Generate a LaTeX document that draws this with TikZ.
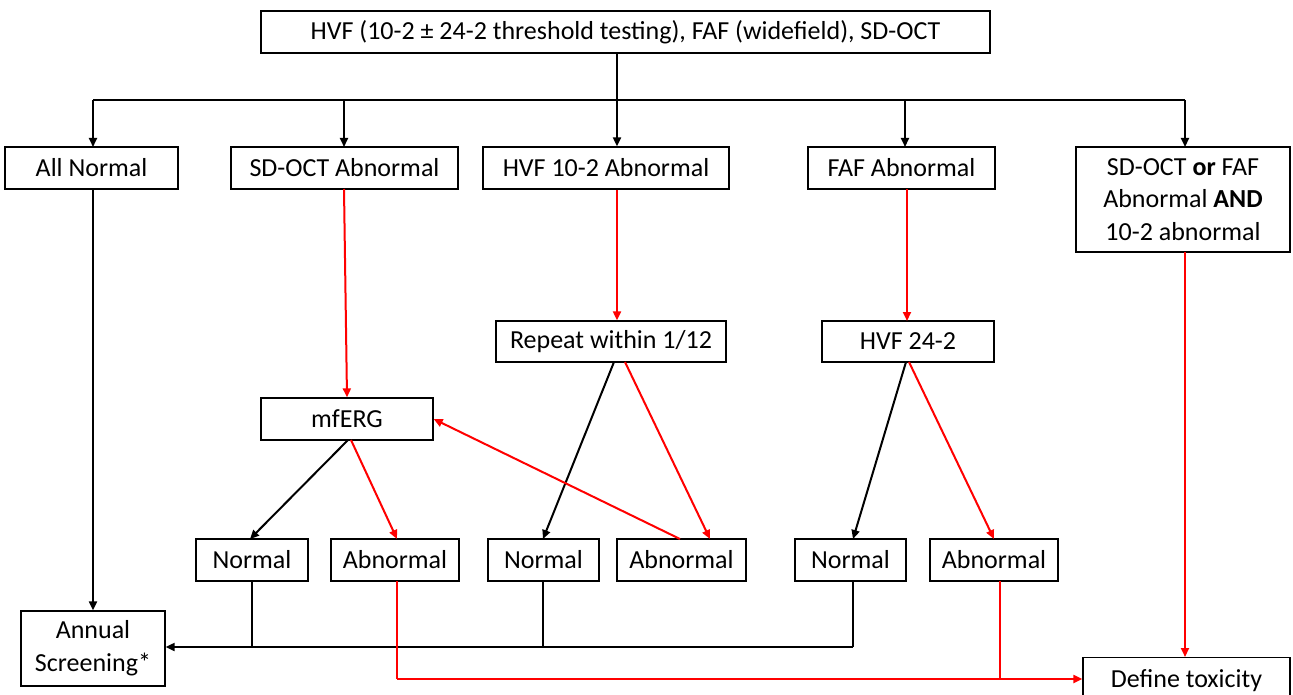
\documentclass[tikz,border=0pt]{standalone}
\usepackage{fontspec}
\setmainfont{Carlito}
\usetikzlibrary{arrows.meta,calc}
\begin{document}
\begin{tikzpicture}[x=1pt,y=-1pt,
  box/.style={draw, line width=1.3pt, inner sep=0pt, minimum height=42pt, align=center,
    font=\fontsize{26}{31}\selectfont},
  ln/.style={line width=2pt, black},
  arr/.style={ln, -{Triangle[length=9pt,width=8pt]}},
  rln/.style={line width=2pt, red},
  rarr/.style={rln, -{Triangle[length=9pt,width=8pt]}}]
\path[use as bounding box] (0,0) rectangle (1293,695);
\begin{scope}
\clip (0,0) rectangle (1293,695);
\node[box, minimum width=729pt] (top) at (625.5,32) {HVF (10-2 ± 24-2 threshold testing), FAF (widefield), SD-OCT};
\node[box, minimum width=173pt] (alln) at (91.5,168) {All Normal};
\node[box, minimum width=227pt] (sdoct) at (344.5,168) {SD-OCT Abnormal};
\node[box, minimum width=246pt] (hvf) at (606,168) {HVF 10-2 Abnormal};
\node[box, minimum width=187pt] (faf) at (901.5,168) {FAF Abnormal};
\node[box, minimum width=214pt, minimum height=105pt, font=\fontsize{26}{32.5}\selectfont] (both) at (1183,199.5) {SD-OCT \textbf{or} FAF\\Abnormal \textbf{AND}\\10-2 abnormal};
\node[box, minimum width=230pt, minimum height=41pt] (rep) at (611,341.5) {Repeat within 1/12};
\node[box, minimum width=172pt, minimum height=41pt] (hvf24) at (908,341.5) {HVF 24-2};
\node[box, minimum width=172pt] (mferg) at (347,419) {mfERG};
\node[box, minimum width=112pt] (n1) at (252,560) {Normal};
\node[box, minimum width=128pt] (a1) at (395,560) {Abnormal};
\node[box, minimum width=111pt] (n2) at (543.5,560) {Normal};
\node[box, minimum width=129pt] (a2) at (681.5,560) {Abnormal};
\node[box, minimum width=111pt] (n3) at (850.5,560) {Normal};
\node[box, minimum width=128pt] (a3) at (994,560) {Abnormal};
\node[box, minimum width=144pt, minimum height=75pt, font=\fontsize{26}{33}\selectfont] (ann) at (93,648.5) {Annual\\Screening*};
\node[box, minimum width=207pt, minimum height=46pt, anchor=north] (tox) at (1186.5,657) {\raisebox{4pt}{Define toxicity}};
\end{scope}
% top distribution bus
\coordinate (bus) at (617,100);
\draw[ln] (top.south -| bus) -- (bus);
\draw[ln] (93,100) -- (1185,100);
\draw[arr] (93,100) -- (93,147);
\draw[arr] (344,100) -- (344,147);
\draw[arr] (bus) -- (hvf.north -| bus);
\draw[arr] (905,100) -- (905,147);
\draw[arr] (1185,100) -- (1185,147);
% first level
\draw[arr] (93,189) -- (ann.north -| 93,0);
\draw[rarr] (344,189) -- (mferg.north);
\draw[rarr] (hvf.south -| bus) -- (rep.north -| bus);
\draw[rarr] (907,189) -- (907,321);
\draw[rarr] (1185,252) -- (1185,657);
% second level
\draw[arr] (348,440) -- (250,539);
\draw[rarr] (351,440) -- (397,539);
\draw[arr] (614,362) -- (543,539);
\draw[rarr] (625,362) -- (710,539);
\draw[rarr] (680,539) -- (mferg.east);
\draw[arr] (906,362) -- (853,539);
\draw[rarr] (909,362) -- (994,539);
% returns
\coordinate (nb) at (0,647);
\draw[ln] (252,581) -- (252,647);
\draw[ln] (543,581) -- (543,647);
\draw[ln] (853,581) -- (853,647);
\draw[arr] (853,647) -- (ann.east |- nb);
\coordinate (tb) at (0,679);
\draw[rln] (397,581) -- (397,679);
\draw[rln] (1000,581) -- (1000,679);
\draw[rarr] (397,679) -- (tox.west |- tb);
\end{tikzpicture}
\end{document}
